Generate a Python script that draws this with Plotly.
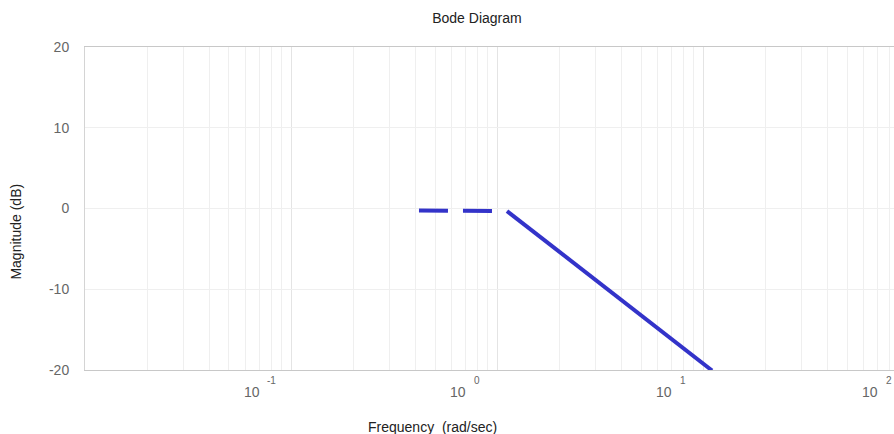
import numpy as np
import plotly.graph_objects as go

# Asymptotic magnitude response (rad/sec, dB)
flat_freq = [0.418, 1.118]
flat_mag = [-0.25, -0.32]
rolloff_freq = [1.118, 11.06]
rolloff_mag = [-0.32, -20.06]

# Axis labelling
decades = [-1, 0, 1, 2]
y_ticks = [-20, -10, 0, 10, 20]
y_tick_text = ["-20", "-10", "0", "10", "20"]

X_RANGE = [-2, 1.927]  # log10 of rad/sec
FONT = "Liberation Sans, Arial, sans-serif"
LINE_COLOR = "#3333c9"

fig = go.Figure()
fig.add_trace(go.Scatter(
    x=flat_freq, y=flat_mag, mode="lines",
    line=dict(color=LINE_COLOR, width=4, dash="29px,15px"),
    showlegend=False, hoverinfo="skip",
))
fig.add_trace(go.Scatter(
    x=rolloff_freq, y=rolloff_mag, mode="lines",
    line=dict(color=LINE_COLOR, width=4),
    showlegend=False, hoverinfo="skip",
))

# Decade gridlines as major ticks, 2..9 multiples as minor gridlines
major_vals = [10.0 ** k for k in range(-2, 3)]
minor_vals = [m * 10.0 ** k for k in range(-2, 2) for m in range(2, 10)]

fig.update_xaxes(
    type="log",
    range=X_RANGE,
    tickmode="array",
    tickvals=major_vals,
    showticklabels=False,
    ticks="",
    showgrid=True,
    gridcolor="#e4e4e4",
    gridwidth=1,
    minor=dict(tickmode="array", tickvals=minor_vals, showgrid=True,
               gridcolor="#efefef", gridwidth=1, ticks=""),
    showline=True,
    linecolor="#c8c8c8",
    linewidth=1,
    mirror=True,
    zeroline=False,
)
fig.update_yaxes(
    range=[-20, 20],
    tickmode="array",
    tickvals=y_ticks,
    ticktext=y_tick_text,
    ticks="",
    ticklabelstandoff=12,
    tickfont=dict(family=FONT, size=14, color="#666666"),
    showgrid=True,
    gridcolor="#efefef",
    showline=True,
    linecolor="#d4d4d4",
    linewidth=1,
    zeroline=False,
)


def decade_to_paper(k):
    return (k - X_RANGE[0]) / (X_RANGE[1] - X_RANGE[0])


annotations = []
# Decade tick labels: base "10" with a raised exponent, set left of each decade line
for k in decades:
    px = decade_to_paper(k)
    annotations.append(dict(
        x=px, y=0, xref="paper", yref="paper", text="10", showarrow=False,
        xanchor="center", yanchor="middle", xshift=-39, yshift=-22,
        font=dict(family=FONT, size=14, color="#666666"),
    ))
    annotations.append(dict(
        x=px, y=0, xref="paper", yref="paper", text=str(k), showarrow=False,
        xanchor="center", yanchor="middle", xshift=-20, yshift=-10.5,
        font=dict(family=FONT, size=10, color="#666666"),
    ))

annotations.append(dict(
    x=0.4295, y=0, xref="paper", yref="paper", text="Frequency  (rad/sec)",
    showarrow=False, xanchor="center", yanchor="middle", yshift=-57,
    font=dict(family=FONT, size=14, color="#222222"),
))
annotations.append(dict(
    x=0, y=0.427, xref="paper", yref="paper", text="Magnitude (dB)",
    showarrow=False, xanchor="center", yanchor="middle", xshift=-68.5,
    textangle=-90, font=dict(family=FONT, size=14, color="#222222"),
))

fig.update_layout(
    width=894,
    height=434,
    margin=dict(l=85, r=0, t=47, b=64),
    paper_bgcolor="white",
    plot_bgcolor="white",
    title=dict(text="Bode Diagram", x=0.4845, xref="paper", xanchor="center",
               y=1 - 18 / 434, yref="container", yanchor="middle",
               font=dict(family=FONT, size=14, color="#222222")),
    annotations=annotations,
    showlegend=False,
)

fig.write_html("out.html")
